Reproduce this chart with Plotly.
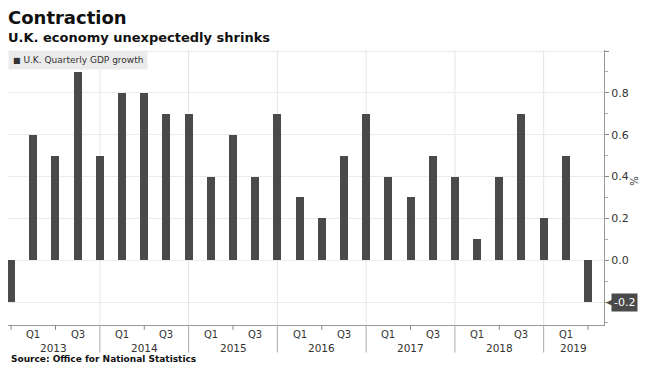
import plotly.graph_objects as go

quarters = ["2012 Q4",
            "2013 Q1", "2013 Q2", "2013 Q3", "2013 Q4",
            "2014 Q1", "2014 Q2", "2014 Q3", "2014 Q4",
            "2015 Q1", "2015 Q2", "2015 Q3", "2015 Q4",
            "2016 Q1", "2016 Q2", "2016 Q3", "2016 Q4",
            "2017 Q1", "2017 Q2", "2017 Q3", "2017 Q4",
            "2018 Q1", "2018 Q2", "2018 Q3", "2018 Q4",
            "2019 Q1", "2019 Q2"]
gdp_growth = [-0.2,
              0.6, 0.5, 0.9, 0.5,
              0.8, 0.8, 0.7, 0.7,
              0.4, 0.6, 0.4, 0.7,
              0.3, 0.2, 0.5, 0.7,
              0.4, 0.3, 0.5, 0.4,
              0.1, 0.4, 0.7, 0.2,
              0.5, -0.2]
years = ["2013", "2014", "2015", "2016", "2017", "2018", "2019"]
y_ticks = [-0.2, 0.0, 0.2, 0.4, 0.6, 0.8, 1.0]
y_ticktext = ["", "0.0", "0.2", "0.4", "0.6", "0.8", ""]
series_name = "U.K. Quarterly GDP growth"

idx = list(range(len(quarters)))
X0, X1 = -0.14, 26.72
FONT = "DejaVu Sans"
BAR = "#4a4a4a"

fig = go.Figure()
fig.add_trace(go.Bar(x=idx, y=gdp_growth, width=0.36, marker_color=BAR,
                     marker_line_width=0, name=series_name, showlegend=False))

shapes = []
annotations = []
for i, q in enumerate(quarters):
    if q.endswith("Q4") and i > 0:
        shapes.append(dict(type="line", xref="x", yref="paper", x0=i, x1=i, y0=0, y1=1,
                           line=dict(color="#e4e4e4", width=1), layer="below"))
        shapes.append(dict(type="line", xref="x", yref="paper", x0=i, x1=i, y0=0, y1=-0.1,
                           line=dict(color="#aaaaaa", width=1)))
    elif i % 2 == 0:
        shapes.append(dict(type="line", xref="x", yref="paper", x0=i, x1=i, y0=0, y1=-0.018,
                           line=dict(color="#888888", width=1)))
    if q.endswith("Q1") or q.endswith("Q3"):
        annotations.append(dict(x=i, xref="x", y=0, yref="paper", yanchor="top", yshift=-2,
                                text=q[-2:], showarrow=False,
                                font=dict(family=FONT, size=10, color="#333333")))

dividers = [X0] + [i for i, q in enumerate(quarters) if q.endswith("Q4") and i > 0] + [X1]
for k, yr in enumerate(years):
    annotations.append(dict(x=(dividers[k] + dividers[k + 1]) / 2, xref="x", y=0, yref="paper",
                            yanchor="top", yshift=-15, text=yr, showarrow=False,
                            font=dict(family=FONT, size=10.5, color="#333333")))

# last value label
annotations.append(dict(x=1, xref="paper", y=gdp_growth[-1], yref="y", xanchor="left",
                        xshift=7, text="%.1f" % gdp_growth[-1], showarrow=False, bgcolor=BAR,
                        font=dict(family=FONT, size=11, color="white"), borderpad=2))
annotations.append(dict(x=1, xref="paper", y=gdp_growth[-1], yref="y", xanchor="left",
                        xshift=0, text="◀", showarrow=False,
                        font=dict(family=FONT, size=9, color=BAR)))
annotations.append(dict(x=1, xref="paper", y=0.38, yref="y", xanchor="left", xshift=22,
                        text="%", textangle=90, showarrow=False,
                        font=dict(family=FONT, size=10, color="#333333")))
# legend box
annotations.append(dict(x=0, xref="paper", y=1, yref="paper", xanchor="left", yanchor="top",
                        text="<span style='font-size:8px'>■</span> " + series_name,
                        showarrow=False, bgcolor="#ebebeb", borderpad=4,
                        font=dict(family=FONT, size=9, color="#333333")))
# titles
annotations.append(dict(x=0, xref="paper", xanchor="left", xshift=-2, y=1, yref="paper",
                        yanchor="bottom", yshift=20, text="<b>Contraction</b>", showarrow=False,
                        font=dict(family=FONT, size=18, color="#111111")))
annotations.append(dict(x=0, xref="paper", xanchor="left", xshift=-2, y=1, yref="paper",
                        yanchor="bottom", yshift=3, text="<b>U.K. economy unexpectedly shrinks</b>",
                        showarrow=False, font=dict(family=FONT, size=13, color="#111111")))
annotations.append(dict(x=0, xref="paper", xanchor="left", xshift=1, y=0, yref="paper",
                        yanchor="top", yshift=-27, text="<b>Source: Office for National Statistics</b>",
                        showarrow=False, font=dict(family=FONT, size=9, color="#111111")))

fig.update_layout(
    width=650, height=377,
    margin=dict(l=8, r=46, t=50, b=52),
    paper_bgcolor="white", plot_bgcolor="white",
    bargap=0,
    showlegend=False,
    xaxis=dict(range=[X0, X1], showticklabels=False, showgrid=False, zeroline=False,
               showline=True, linecolor="#999999", linewidth=1, ticks=""),
    yaxis=dict(side="right", range=[-0.31, 1.005], tickvals=y_ticks, ticktext=y_ticktext,
               showgrid=True, gridcolor="#ebebeb", gridwidth=1, zeroline=False,
               showline=True, linecolor="#999999", linewidth=1,
               ticks="outside", ticklen=4, tickcolor="#888888",
               minor=dict(dtick=0.1, ticks="outside", ticklen=3, tickcolor="#aaaaaa", showgrid=False),
               tickfont=dict(family=FONT, size=11, color="#333333")),
    shapes=shapes,
    annotations=annotations,
)

fig.write_html("out.html", config={"displayModeBar": False},
               post_script="document.body.style.margin='0';")
